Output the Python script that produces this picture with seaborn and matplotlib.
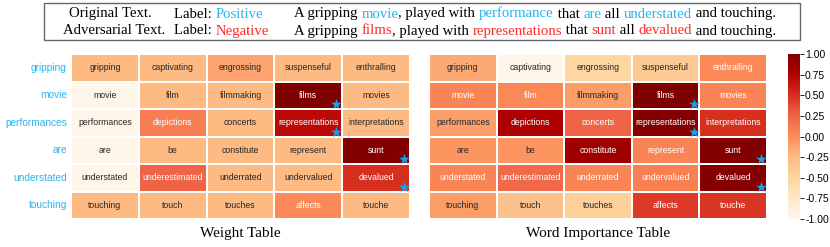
import matplotlib
matplotlib.use("Agg")
import matplotlib.pyplot as plt
import seaborn as sns
import numpy as np
from matplotlib.patches import Rectangle

# ---------------- data ----------------
row_words = ['gripping', 'movie', 'performances', 'are', 'understated', 'touching']

cell_words = [
    ['gripping', 'captivating', 'engrossing', 'suspenseful', 'enthralling'],
    ['movie', 'film', 'filmmaking', 'films', 'movies'],
    ['performances', 'depictions', 'concerts', 'representations', 'interpretations'],
    ['are', 'be', 'constitute', 'represent', 'sunt'],
    ['understated', 'underestimated', 'underrated', 'undervalued', 'devalued'],
    ['touching', 'touch', 'touches', 'affects', 'touche'],
]

weight_vals = [
    [-0.25, -0.25, -0.12, -0.25, -0.25],
    [-0.98, -0.25, -0.25, 1.00, -0.25],
    [-0.98, 0.10, -0.25, 0.70, -0.25],
    [-0.98, -0.25, -0.25, -0.25, 0.97],
    [-0.98, 0.25, -0.25, -0.25, 0.50],
    [-0.25, -0.25, -0.25, 0.02, -0.25],
]

importance_vals = [
    [-0.15, -0.97, -0.52, -0.40, 0.02],
    [0.05, 0.03, -0.08, 1.00, 0.05],
    [-0.10, 0.77, 0.25, 0.97, 0.50],
    [-0.04, -0.04, 0.85, 0.05, 0.98],
    [0.06, 0.22, 0.05, 0.08, 0.97],
    [-0.08, -0.32, -0.45, 0.45, 0.47],
]

# swapped cells (row, col) marked with a star
star_cells = [(1, 3), (2, 3), (3, 4), (4, 4)]

orig_line = [("A gripping ", 'k'), ("movie", 'blue'), (", played with ", 'k'),
             ("performance", 'blue'), (" that ", 'k'), ("are", 'blue'), (" all ", 'k'),
             ("understated", 'blue'), (" and touching.", 'k')]
adv_line = [("A gripping ", 'k'), ("films", 'red'), (", played with ", 'k'),
            ("representations", 'red'), (" that ", 'k'), ("sunt", 'red'), (" all ", 'k'),
            ("devalued", 'red'), (" and touching.", 'k')]

cyan = '#29b4ef'
red = '#ff2b2b'
star_col = '#1a9fe6'
colmap = {'k': 'black', 'blue': cyan, 'red': red}

plt.rcParams['font.family'] = ['Liberation Sans', 'DejaVu Sans']
serif = ['Liberation Serif', 'DejaVu Serif']

W, H = 830, 247
fig = plt.figure(figsize=(8.3, 2.47), dpi=100)

def fx(px):
    return px / W

def fy(py):
    return 1 - py / H

hm_bottom = fy(219)
hm_h = 165 / H
ax1 = fig.add_axes([fx(71), hm_bottom, 339 / W, hm_h])
ax2 = fig.add_axes([fx(429), hm_bottom, 338 / W, hm_h])
cax = fig.add_axes([fx(788), hm_bottom, 11.5 / W, hm_h])

annot = np.array(cell_words)
common = dict(cmap='OrRd', vmin=-1, vmax=1, annot=annot, fmt='',
              linewidths=0.12, linecolor='white',
              annot_kws={'fontsize': 6.3})

sns.heatmap(np.array(weight_vals), ax=ax1, cbar=False, xticklabels=False,
            yticklabels=row_words, **common)
sns.heatmap(np.array(importance_vals), ax=ax2, cbar=True, cbar_ax=cax,
            xticklabels=False, yticklabels=False, **common)

ax1.tick_params(axis='y', length=0, labelsize=7.3, pad=3, labelcolor=cyan)
plt.setp(ax1.get_yticklabels(), rotation=0)
ax2.tick_params(length=0)

for ax in (ax1, ax2):
    for r, c in star_cells:
        ax.scatter(c + 0.915, r + 0.82, marker='*', s=70, color=star_col,
                   linewidths=0, zorder=5)

cbar = ax2.collections[0].colorbar
cbar.set_ticks(np.arange(-1, 1.01, 0.25))
cbar.ax.yaxis.set_major_formatter(matplotlib.ticker.FormatStrFormatter('%.2f'))
cbar.ax.tick_params(labelsize=7.5, length=3, width=0.6, pad=1)
cbar.outline.set_visible(False)

fig.text(fx(240), fy(234), 'Weight Table', ha='center', va='center',
         family=serif, fontsize=11)
fig.text(fx(598), fy(234), 'Word Importance Table', ha='center', va='center',
         family=serif, fontsize=11)

# ---------------- top text box ----------------
fs = 10.6
top = fig.add_axes([0, 0, 1, 1], zorder=-1)
top.set_xlim(0, W)
top.set_ylim(H, 0)
top.axis('off')
top.add_patch(Rectangle((44, 3), 756, 37, fill=False, edgecolor='#666666', lw=1.0))

top.text(110, 17.5, 'Original Text.', ha='center', va='baseline', family=serif, fontsize=fs)
top.text(114, 34.5, 'Adversarial Text.', ha='center', va='baseline', family=serif, fontsize=fs)
t = top.text(174, 17.5, 'Label: ', ha='left', va='baseline', family=serif, fontsize=fs)
top.annotate('Positive', xy=(1, 0), xycoords=t, va='bottom', family=serif,
             fontsize=fs, color=cyan)
t = top.text(174, 34.5, 'Label: ', ha='left', va='baseline', family=serif, fontsize=fs)
top.annotate('Negative', xy=(1, 0), xycoords=t, va='bottom', family=serif,
             fontsize=fs, color=red)

for yb, segs in ((17.5, orig_line), (34.5, adv_line)):
    s0, c0 = segs[0]
    t = top.text(294, yb, s0, ha='left', va='baseline', family=serif, fontsize=fs,
                 color=colmap[c0])
    for s, c in segs[1:]:
        t = top.annotate(s, xy=(1, 0), xycoords=t, va='bottom', family=serif,
                         fontsize=fs, color=colmap[c])

fig.savefig('out.png', dpi=100)
